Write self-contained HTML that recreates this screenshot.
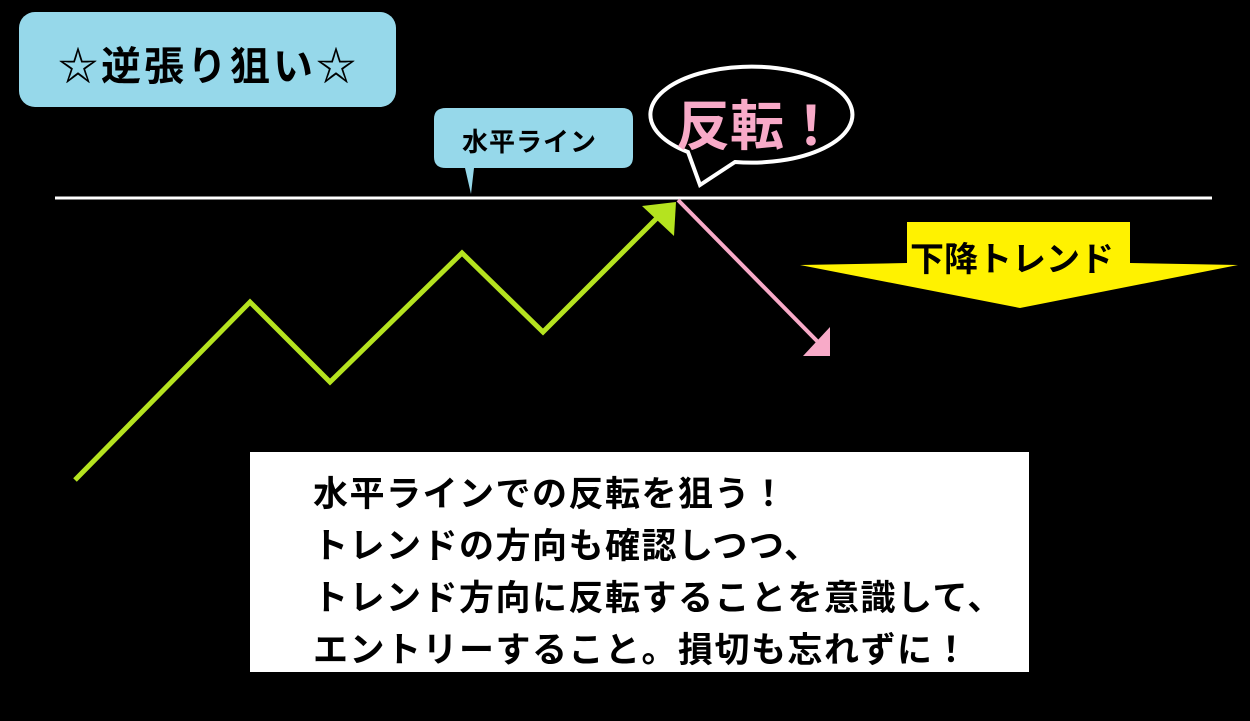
<!DOCTYPE html>
<html><head><meta charset="utf-8"><style>
body{margin:0;background:#000;width:1250px;height:721px;overflow:hidden;position:relative;font-family:"Liberation Sans","Noto Sans CJK JP",sans-serif;font-weight:bold}
.t{position:absolute;white-space:nowrap}
</style></head><body>
<svg width="1250" height="721" style="position:absolute;left:0;top:0">
<rect x="19" y="12" width="377" height="95" rx="16" fill="#96d8ea"/>
<path d="M446 108 H622 Q633 108 633 119 V157 Q633 168 622 168 H474 L471 194 L465 168 H446 Q434 168 434 157 V119 Q434 108 446 108Z" fill="#96d8ea"/>
<path d="M688 152 A101 48 0 1 1 735 162 L700 185 Z" fill="#000" stroke="#fff" stroke-width="4" stroke-linejoin="miter"/>
<line x1="55" y1="198" x2="1212" y2="198" stroke="#fff" stroke-width="3"/>
<polyline points="75,480 250,302 330,382 462,253 543,332 662,213" fill="none" stroke="#b5e31f" stroke-width="5"/>
<polygon points="642,206 676,202 674,236" fill="#b5e31f"/>
<line x1="678" y1="200" x2="818" y2="342" stroke="#f8aac8" stroke-width="4"/>
<polygon points="830,327 830,356 803,356" fill="#f8aac8"/>
<polygon points="907,222 1130,222 1130,263 1238,265 1020,308 800,265 907,263" fill="#fff200"/>
<rect x="250" y="452" width="779" height="220" fill="#fff"/>
</svg>
<div class="t" style="left:58px;top:34px;font-size:40px;letter-spacing:3px">☆逆張り狙い☆</div>
<div class="t" style="left:462px;top:122px;font-size:26px;letter-spacing:1px">水平ライン</div>
<div class="t" style="left:676px;top:82px;font-size:54px;color:#f8aac8">反転！</div>
<div class="t" style="left:910px;top:232px;font-size:34px">下降トレンド</div>
<div class="t" style="left:313px;top:469px;font-size:35px;letter-spacing:1.5px;line-height:52px">水平ラインでの反転を狙う！<br>トレンドの方向も確認しつつ、<br>トレンド方向に反転することを意識して、<br>エントリーすること。損切も忘れずに！</div>
</body></html>
